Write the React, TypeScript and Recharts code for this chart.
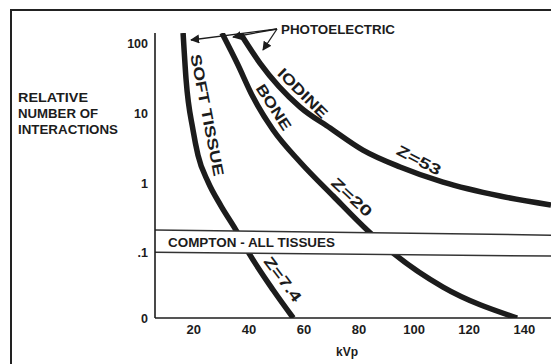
import React from "react";
import { ComposedChart, Line, Area, XAxis, YAxis } from "recharts";

// ---- data ----
const kvpTicks = [20, 40, 60, 80, 100, 120, 140];
const yTicks = [0.0116, 0.1, 1, 10, 100];
const yTickLabels = ["0", ".1", "1", "10", "100"];

const softTissueKvp = [16.1, 17.2, 19.7, 21.5, 25.2, 29.9, 35.3, 40.0, 48.8, 56.1];
const softTissueVal = [142, 30.0, 5.76, 2.52, 1.03, 0.468, 0.212, 0.099, 0.0292, 0.0116];

const boneKvp = [30.2, 35.7, 41.5, 48.8, 58.9, 70.6, 83.3, 92.4, 110.5, 137.4];
const boneVal = [142, 52.7, 17.1, 5.76, 1.94, 0.651, 0.205, 0.099, 0.0322, 0.0116];

const iodineKvp = [36.8, 44.0, 58.6, 69.5, 81.4, 94.9, 110.5, 131.2, 149.7];
const iodineVal = [142, 52.7, 12.3, 6.15, 2.97, 1.7, 1.03, 0.651, 0.484];

const comptonKvp = [5.9, 149.7];
const comptonHigh = [0.212, 0.179];
const comptonLow = [0.102, 0.0897];

const X_DOMAIN: [number, number] = [5.9, 149.7];
const Y_DOMAIN: [number, number] = [0.0116, 142];

const pts = (ks: number[], vs: number[]) => ks.map((k, i) => ({ k, v: vs[i] }));
const softTissue = pts(softTissueKvp, softTissueVal);
const bone = pts(boneKvp, boneVal);
const iodine = pts(iodineKvp, iodineVal);
const comptonTop = pts(comptonKvp, comptonHigh);
const comptonBottom = pts(comptonKvp, comptonLow);
const comptonBand = comptonKvp.map((k, i) => ({ k, range: [comptonLow[i], comptonHigh[i]] }));

const INK = "#1c1c1c";
const FONT = "'Liberation Sans', Arial, Helvetica, sans-serif";

const YTick = (props: any) => {
  const { x, y, payload } = props;
  const i = yTicks.findIndex((t) => Math.abs(t - payload.value) < 1e-9);
  return (
    <text x={x} y={y} dy={4.5} textAnchor="end" fontFamily={FONT} fontWeight="bold" fontSize={12.5} fill={INK}>
      {i >= 0 ? yTickLabels[i] : ""}
    </text>
  );
};

const XTick = (props: any) => {
  const { x, y, payload } = props;
  return (
    <text x={x} y={y} dy="0.71em" textAnchor="middle" fontFamily={FONT} fontWeight="bold" fontSize={13} fill={INK}>
      {payload.value}
    </text>
  );
};

const RotText = ({ cx, cy, angle, len, size = 15, children }: any) => (
  <text
    x={cx}
    y={cy}
    textAnchor="middle"
    dominantBaseline="central"
    transform={`rotate(${angle} ${cx} ${cy})`}
    fontFamily={FONT}
    fontWeight="bold"
    fontSize={size}
    fill={INK}
    textLength={len}
    lengthAdjust="spacingAndGlyphs"
  >
    {children}
  </text>
);

export default function App() {
  return (
    <div style={{ position: "absolute", left: 0, top: 0, width: 551, height: 364, background: "#fff", overflow: "hidden" }}>
      <ComposedChart width={551} height={364} margin={{ top: 33, right: 0, bottom: 16, left: 0 }}>
        <XAxis
          type="number"
          dataKey="k"
          domain={X_DOMAIN}
          allowDataOverflow
          ticks={kvpTicks}
          interval={0}
          tickLine={false}
          tickSize={0}
          tickMargin={7}
          height={30}
          axisLine={{ stroke: INK, strokeWidth: 1.6 }}
          tick={<XTick />}
        />
        <YAxis
          type="number"
          scale="log"
          domain={Y_DOMAIN}
          allowDataOverflow
          ticks={yTicks}
          interval={0}
          width={155}
          tickLine={false}
          tickSize={0}
          tickMargin={7}
          axisLine={{ stroke: INK, strokeWidth: 1.6 }}
          tick={<YTick />}
        />
        <Line data={softTissue} dataKey="v" type="monotone" stroke={INK} strokeWidth={5.5} dot={false} isAnimationActive={false} />
        <Line data={bone} dataKey="v" type="monotone" stroke={INK} strokeWidth={5.5} dot={false} isAnimationActive={false} />
        <Line data={iodine} dataKey="v" type="monotone" stroke={INK} strokeWidth={5.5} dot={false} isAnimationActive={false} />
        <Area
          data={comptonBand}
          dataKey="range"
          type="linear"
          stroke="none"
          fill="#ffffff"
          fillOpacity={1}
          isAnimationActive={false}
          zIndex={450}
        />
        <Line data={comptonTop} dataKey="v" type="linear" stroke="#333" strokeWidth={1.5} dot={false} isAnimationActive={false} zIndex={460} />
        <Line data={comptonBottom} dataKey="v" type="linear" stroke="#333" strokeWidth={1.5} dot={false} isAnimationActive={false} zIndex={460} />
      </ComposedChart>

      <svg width={551} height={364} style={{ position: "absolute", left: 0, top: 0, pointerEvents: "none" }}>
        <defs>
          <marker id="ah" viewBox="0 0 10 10" refX="9" refY="5" markerWidth="7" markerHeight="7" orient="auto">
            <path d="M0,0 L10,5 L0,10 z" fill={INK} />
          </marker>
        </defs>
        {/* frame */}
        <line x1={10} y1={10} x2={551} y2={10} stroke="#222" strokeWidth={2} />
        <line x1={11} y1={10} x2={11} y2={364} stroke="#222" strokeWidth={2} />

        {/* photoelectric arrows */}
        <line x1={277} y1={29} x2={191} y2={40} stroke={INK} strokeWidth={1.3} markerEnd="url(#ah)" />
        <line x1={277} y1={29} x2={233} y2={37} stroke={INK} strokeWidth={1.3} markerEnd="url(#ah)" />
        <line x1={277} y1={29} x2={263} y2={50} stroke={INK} strokeWidth={1.3} markerEnd="url(#ah)" />

        <text x={281} y={33.5} fontFamily={FONT} fontWeight="bold" fontSize={12.5} fill={INK} textLength={114} lengthAdjust="spacingAndGlyphs">
          PHOTOELECTRIC
        </text>

        {/* y axis title */}
        <g fontFamily={FONT} fontWeight="bold" fontSize={12.5} fill={INK}>
          <text x={18} y={101.5} textLength={70} lengthAdjust="spacingAndGlyphs">RELATIVE</text>
          <text x={18} y={117.5} textLength={80} lengthAdjust="spacingAndGlyphs">NUMBER OF</text>
          <text x={18} y={134} textLength={100} lengthAdjust="spacingAndGlyphs">INTERACTIONS</text>
        </g>

        <text x={168} y={246.5} fontFamily={FONT} fontWeight="bold" fontSize={12.5} fill={INK} textLength={167} lengthAdjust="spacingAndGlyphs">
          COMPTON - ALL TISSUES
        </text>

        <text x={347} y={356} textAnchor="middle" fontFamily={FONT} fontWeight="bold" fontSize={12} fill={INK}>
          kVp
        </text>

        <RotText cx={207.5} cy={115} angle={79} len={124}>SOFT TISSUE</RotText>
        <RotText cx={274} cy={107} angle={57} len={52}>BONE</RotText>
        <RotText cx={303} cy={93} angle={45} len={64}>IODINE</RotText>
        <RotText cx={419} cy={160} angle={27.5} len={48}>Z=53</RotText>
        <RotText cx={352} cy={197} angle={43} len={50}>Z=20</RotText>
        <RotText cx={283} cy={279} angle={53} len={52}>Z=7.4</RotText>
      </svg>
    </div>
  );
}
